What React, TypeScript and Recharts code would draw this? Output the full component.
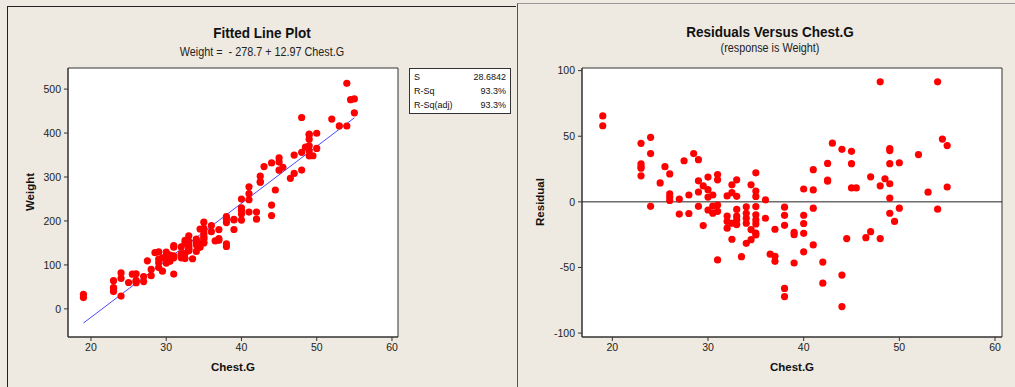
import {
  ReferenceArea,
  ReferenceLine,
  Scatter,
  ScatterChart,
  XAxis,
  YAxis,
} from "recharts";

// Chest girth (inches) and residual weight for each observation
const chestG = [
  19, 19,
  23, 23, 23, 23, 23,
  24, 24, 24,
  25, 25.5,
  26, 26, 26, 26,
  27, 27, 27.5,
  28, 28, 28.5,
  29, 29, 29, 29,
  29.5, 29.5,
  30, 30, 30, 30,
  30.5, 30.5, 30.5,
  31, 31, 31, 31, 31,
  32, 32, 32, 32,
  32.5, 32.5, 32.5, 32.5,
  33, 33, 33, 33, 33, 33,
  33.5,
  34, 34, 34, 34, 34,
  34.5, 34.5, 34.5,
  35, 35, 35, 35, 35, 35, 35, 35, 35,
  36, 36, 36.5,
  37, 37, 37,
  38, 38, 38, 38, 38,
  39, 39, 39,
  40, 40, 40, 40, 40,
  41, 41, 41, 41,
  42, 42,
  42.5, 42.5, 42.5,
  43,
  44, 44, 44, 44.5,
  45, 45, 45, 45.5,
  46.5, 47, 47,
  48, 48, 48, 48.5,
  49, 49, 49, 49, 49, 49,
  49.5, 50, 50,
  52, 53,
  54, 54, 54.5,
  55, 55,
];

const residuals = [
  65.5, 58,
  44.6, 29, 27, 25.6, 19.8,
  49.2, 36.8, -3.4,
  14.4, 26.8,
  21.3, 6.1, 3.6, 1.1,
  2.1, -9.3, 31.3,
  5.2, -8.9, 36.8,
  32.1, 16, 7.5, -3.4,
  12.1, -18.1,
  18.9, 9.3, 3.6, -6.2,
  5.2, -3.2, -8.7,
  20.8, 16.8, -2.5, -7.2, -44.3,
  4.5, -10.8, -14.9, -20.1,
  13, 7, -16.3, -28.5,
  16.8, 4.2, -5.8, -10.9, -13.8, -17.3,
  -41.8,
  -3.8, -8.7, -12.5, -16.3, -31.6,
  13, -21.1, -28.8,
  22.1, 8.2, 4.1, -3.6, -9.9, -13.8, -16.8, -23.9, -25.2,
  1.5, -12.5, -39.9,
  -20.9, -41.5, -45.3,
  -4.1, -10.3, -17.9, -66, -72.2,
  -23.2, -25, -46.6,
  9.8, -10.2, -16.5, -24, -38.1,
  24.5, 9.1, -4.8, -32.8,
  -45.9, -62,
  29.3, 16.6, 15.7,
  44.7,
  40, -55.8, -79.8, -28,
  38.5, 29.1, 10.6, 10.6,
  -27.3, 19.1, -22.7,
  91.5, 12.2, -28, 17.6,
  40.6, 39.1, 29.1, 13.8, 2.9, -8.7,
  -14.9, 29.8, -4.8,
  36, 7.4,
  91.5, -5.6, 47.8,
  42.9, 11.3,
];

// Regression fit: Weight = -278.7 + 12.97 Chest.G
const intercept = -278.7;
const slope = 12.97;
const fitRange = [19, 55];

const chestTicks = [20, 30, 40, 50, 60];
const weightTicks = [0, 100, 200, 300, 400, 500];
const residualTicks = [-100, -50, 0, 50, 100];

const fitStats = [
  ["S", "28.6842"],
  ["R-Sq", "93.3%"],
  ["R-Sq(adj)", "93.3%"],
];

const fitted = (x: number) => intercept + slope * x;

const weightPoints = chestG.map((x, i) => ({ x, y: fitted(x) + residuals[i] }));
const residualPoints = chestG.map((x, i) => ({ x, y: residuals[i] }));

const BG = "#eeeae1";
const FONT = "'Liberation Sans', Arial, sans-serif";
const tickStyle = { fontSize: 10.5, fill: "#222", fontFamily: FONT };
const axisLine = { stroke: "#333" };

const RedDot = (props: any) => <circle cx={props.cx} cy={props.cy} r={3.6} fill="#ff0000" />;

function Title({ x, y, title, sub, subY }: { x: number; y: number; title: string; sub: string; subY: number }) {
  return (
    <>
      <div
        style={{
          position: "absolute",
          left: x - 150,
          top: y - 10,
          width: 300,
          textAlign: "center",
          fontFamily: FONT,
          fontWeight: "bold",
          fontSize: 15,
          lineHeight: "20px",
          color: "#111",
          transform: "scaleX(0.9)",
        }}
      >
        {title}
      </div>
      <div
        style={{
          position: "absolute",
          left: x - 150,
          top: subY - 8,
          width: 300,
          textAlign: "center",
          fontFamily: FONT,
          fontSize: 12,
          lineHeight: "16px",
          color: "#222",
          whiteSpace: "pre",
          transform: "scaleX(0.9)",
        }}
      >
        {sub}
      </div>
    </>
  );
}

function AxisTitle({ x, y, text, vertical }: { x: number; y: number; text: string; vertical?: boolean }) {
  return (
    <div
      style={{
        position: "absolute",
        left: x - 50,
        top: y - 8,
        width: 100,
        textAlign: "center",
        fontFamily: FONT,
        fontWeight: "bold",
        fontSize: 11.5,
        lineHeight: "16px",
        color: "#111",
        transform: vertical ? "rotate(-90deg)" : undefined,
      }}
    >
      {text}
    </div>
  );
}

export default function App() {
  return (
    <div style={{ position: "absolute", left: 0, top: 0, width: 1015, height: 387, background: BG, overflow: "hidden" }}>
      {/* panel frames */}
      <div style={{ position: "absolute", left: 7, top: 6, width: 508, height: 400, borderTop: "1px solid #222", borderLeft: "1px solid #222" }} />
      <div style={{ position: "absolute", left: 517, top: 3, width: 520, height: 400, borderTop: "1px solid #999", borderLeft: "1px solid #555" }} />

      <Title x={262} y={33} title="Fitted Line Plot" sub="Weight =  - 278.7 + 12.97 Chest.G" subY={52} />
      <Title x={770} y={32} title="Residuals Versus Chest.G" sub="(response is Weight)" subY={48} />

      <div style={{ position: "absolute", left: 0, top: 0 }}>
        <ScatterChart width={515} height={387} margin={{ top: 68, right: 117, bottom: 20, left: 20 }}>
          <ReferenceArea x1={16.95} x2={60.8} y1={-64} y2={548} fill="#fff" fillOpacity={1} stroke="#333" />
          <XAxis
            type="number"
            dataKey="x"
            domain={[16.95, 60.8]}
            ticks={chestTicks}
            allowDataOverflow
            height={30}
            tickSize={4}
            tickMargin={3}
            tick={tickStyle}
            axisLine={axisLine}
            tickLine={axisLine}
          />
          <YAxis
            type="number"
            dataKey="y"
            domain={[-64, 548]}
            ticks={weightTicks}
            allowDataOverflow
            width={48}
            tickSize={4}
            tickMargin={3}
            tick={tickStyle}
            axisLine={axisLine}
            tickLine={axisLine}
          />
          <Scatter data={weightPoints} shape={RedDot} isAnimationActive={false} />
          <ReferenceLine
            segment={fitRange.map((x) => ({ x, y: fitted(x) }))}
            stroke="#4848ff"
            strokeWidth={1}
          />
        </ScatterChart>
      </div>

      <div style={{ position: "absolute", left: 515, top: 0 }}>
        <ScatterChart width={500} height={387} margin={{ top: 68, right: 13, bottom: 20, left: 20 }}>
          <ReferenceArea x1={16.83} x2={60.73} y1={-103} y2={102} fill="#fff" fillOpacity={1} stroke="#333" />
          <XAxis
            type="number"
            dataKey="x"
            domain={[16.83, 60.73]}
            ticks={chestTicks}
            allowDataOverflow
            height={30}
            tickSize={4}
            tickMargin={3}
            tick={tickStyle}
            axisLine={axisLine}
            tickLine={axisLine}
          />
          <YAxis
            type="number"
            dataKey="y"
            domain={[-103, 102]}
            ticks={residualTicks}
            allowDataOverflow
            width={47}
            tickSize={4}
            tickMargin={3}
            tick={tickStyle}
            axisLine={axisLine}
            tickLine={axisLine}
          />
          <ReferenceLine y={0} stroke="#222" strokeWidth={1} />
          <Scatter data={residualPoints} shape={RedDot} isAnimationActive={false} />
        </ScatterChart>
      </div>

      <AxisTitle x={233} y={367} text="Chest.G" />
      <AxisTitle x={792} y={367} text="Chest.G" />
      <AxisTitle x={30} y={192} text="Weight" vertical />
      <AxisTitle x={540} y={202} text="Residual" vertical />

      {/* regression summary box */}
      <div
        style={{
          position: "absolute",
          left: 409,
          top: 68,
          width: 100,
          padding: "1px 0",
          border: "1px solid #333",
          background: "#fff",
          fontFamily: FONT,
          fontSize: 9,
          color: "#111",
        }}
      >
        {fitStats.map(([k, v]) => (
          <div
            key={k}
            style={{
              display: "flex",
              justifyContent: "space-between",
              padding: "0 4px",
              height: 14,
              lineHeight: "14px",
            }}
          >
            <span>{k}</span>
            <span>{v}</span>
          </div>
        ))}
      </div>
    </div>
  );
}
